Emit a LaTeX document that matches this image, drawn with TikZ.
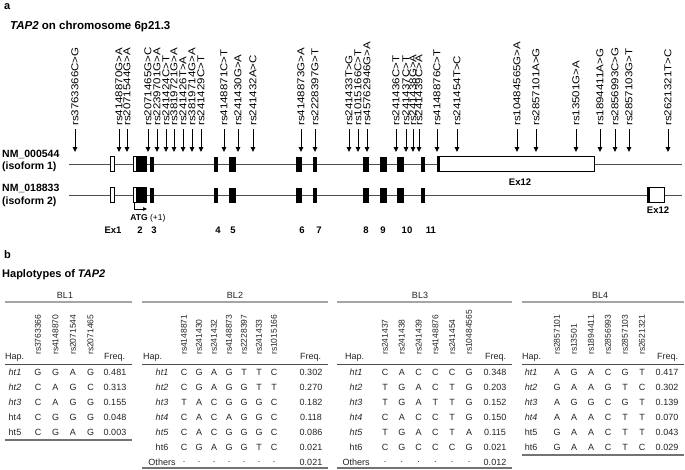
\documentclass[tikz,border=0pt]{standalone}
\usepackage{fontspec}
\setmainfont{Liberation Sans}
\usetikzlibrary{arrows.meta, positioning}
\definecolor{rulegray}{RGB}{165,165,165}
\definecolor{inkgray}{RGB}{35,35,35}

\begin{document}
\begin{tikzpicture}[
    x=1pt, y=-1pt,
    panel/.style={font=\fontsize{11}{12}\selectfont\bfseries, anchor=north west, inner sep=0pt},
    ttl/.style={font=\fontsize{11.5}{12}\selectfont\bfseries, anchor=west, inner sep=0pt},
    snp/.style={rotate=90, anchor=west, inner sep=0pt, font=\fontsize{10}{11}\selectfont},
    snparr/.style={-{Triangle[length=5pt, width=4.5pt]}, line width=0.9pt, shorten <=3pt},
    track/.style={draw=black!70, line width=0.8pt},
    utr/.style={draw, fill=white, line width=0.6pt},
    cds/.style={fill=black},
    iso/.style={font=\fontsize{10.5}{12.5}\selectfont\bfseries, anchor=west, align=left, inner sep=0pt},
    exlbl/.style={font=\fontsize{9.5}{10}\selectfont\bfseries, inner sep=0pt},
    bl/.style={font=\fontsize{9}{10}\selectfont, text=inkgray, inner sep=0pt},
    colhead/.style={rotate=90, anchor=west, inner sep=0pt, text=inkgray, font=\fontsize{8.5}{9}\selectfont},
    head/.style={anchor=west, inner sep=0pt, text=inkgray, font=\fontsize{9}{10}\selectfont},
    cell/.style={inner sep=0pt, text=inkgray, font=\fontsize{9}{10}\selectfont},
    toprule/.style={draw=rulegray, line width=1.8pt},
    midrule/.style={draw=black!70, line width=0.9pt},
    botrule/.style={draw=black!55, line width=1.2pt}
]
\useasboundingbox (0,0) rectangle (685,469);

% Panel a: gene structure
\node[panel] (pa) at (4,3) {a};
\node[ttl] (title) at (10,27) {\textit{TAP2} on chromosome 6p21.3};

% SNP arrows
\foreach \x/\lbl [count=\i] in {75/rs3763366C>G, 119/rs4148870G>A, 127/rs2071544G>A,
    148/rs2071465G>C, 157/rs2239701G>A, 166/rs241424C>T, 174/rs3819721G>A,
    183/rs241426T>A, 192/rs3819714G>A, 201/rs241429C>T, 224/rs4148871C>T,
    238/rs241430G>A, 253/rs241432A>C, 301/rs4148873G>A, 315/rs2228397G>T,
    349/rs241433T>G, 358/rs1015166C>T, 367/rs45762946G>A, 396/rs241436C>T,
    406/rs241437C>T, 413/rs241438G>A, 419/rs241439C>A, 437/rs4148876C>T,
    457/rs241454T>C, 517/rs10484565G>A, 536/rs2857101A>G, 576/rs13501G>A,
    600/rs1894411A>G, 615/rs2856993C>G, 629/rs2857103G>T, 668/rs2621321T>C} {
  \node[snp] (snp\i) at (\x,126) {\scalebox{1.15}[1]{\lbl}};
  \coordinate (tip\i) at (\x,152);
  \draw[snparr] (snp\i.west) -- (tip\i);
}

% isoform labels
\node[iso] (iso1) at (2,161) {NM\_000544\\(isoform 1)};
\node[iso] (iso2) at (2,195.5) {NM\_018833\\(isoform 2)};

% tracks and exons 1-11 (both isoforms)
\foreach \yy in {164,195} {
  \draw[track] (69,\yy) -- (682,\yy);
  \draw[utr] (110,\yy-7.5) rectangle (114,\yy+7.5);
  \draw[utr] (133,\yy-7.5) rectangle (146,\yy+7.5);
  \foreach \xa/\xb in {136/146, 150/154, 214/218, 229/236, 296/302, 313/317,
                       363/369, 380/387, 397/404, 421/425}
    \fill[cds] (\xa,\yy-7.5) rectangle (\xb,\yy+7.5);
}
% exon 12
\draw[utr] (437,156.5) rectangle (594,171.5);
\fill[cds] (437,156.5) rectangle (440,171.5);
\draw[utr] (647,187.5) rectangle (664,202.5);
\fill[cds] (647,187.5) rectangle (649.5,202.5);
\node[exlbl] (ex12a) at (520,182) {Ex12};
\node[exlbl] (ex12b) at (658,210) {Ex12};

% start codon
\coordinate (atg0) at (134,202.5);
\coordinate (atg1) at (147,209);
\draw[-{Triangle[length=4pt, width=3.5pt]}, line width=0.6pt] (atg0) |- (atg1);
\node[inner sep=0pt, font=\fontsize{8.5}{9}\selectfont] (atg) at (148,218) {\textbf{ATG} (+1)};

% exon numbers
\foreach \x/\n [count=\i] in {113/Ex1, 140/2, 154/3, 218/4, 233/5, 302/6, 319/7,
                              366/8, 383/9, 407/10, 431/11}
  \node[exlbl] (exn\i) at (\x,230) {\n};

% Panel b: haplotype tables
\node[panel] (pb) at (4,250) {b};
\node[ttl, font=\fontsize{11}{12}\selectfont\bfseries] (hapttl) at (2,275) {Haplotypes of \textit{TAP2}};

% BL1
\node[bl] (bl1) at (65,295) {BL1};
\draw[toprule] (5,302) -- (132,302);
\foreach \rs [count=\k] in {rs3763366, rs4148870, rs2071544, rs2071465}
  \node[colhead] (bl1h\k) at ({38+17.5*(\k-1)},355) {\rs};
\node[head] (bl1hap) at (5,357) {Hap.};
\node[head] (bl1frq) at (104,357) {Freq.};
\draw[midrule] (5,364) -- (132,364);
\foreach \hap/\cells/\fq [count=\r] in {{\itshape ht1}/{G,G,A,G}/0.481,
    {\itshape ht2}/{C,A,G,C}/0.313, {\itshape ht3}/{C,A,G,G}/0.155,
    ht4/{C,G,G,G}/0.048, ht5/{C,G,A,G}/0.003} {
  \node[cell] (bl1r\r) at (15,{372+15*(\r-1)}) {\hap};
  \foreach \c [count=\k] in \cells
    \node[cell] (bl1r\r c\k) at ({38+17.5*(\k-1)},{372+15*(\r-1)}) {\c};
  \node[cell] (bl1f\r) at (115,{372+15*(\r-1)}) {\fq};
}
\draw[botrule] (5,440) -- (132,440);

% BL2
\node[bl] (bl2) at (235,295) {BL2};
\draw[toprule] (142,302) -- (328,302);
\foreach \rs [count=\k] in {rs4148871, rs241430, rs241432, rs4148873, rs2228397, rs241433, rs1015166}
  \node[colhead] (bl2h\k) at ({184+15*(\k-1)},355) {\rs};
\node[head] (bl2hap) at (143,357) {Hap.};
\node[head] (bl2frq) at (300,357) {Freq.};
\draw[midrule] (142,364) -- (328,364);
\foreach \hap/\cells/\fq [count=\r] in {{\itshape ht1}/{C,G,A,G,T,T,C}/0.302,
    {\itshape ht2}/{C,G,A,G,G,T,T}/0.270, {\itshape ht3}/{T,A,C,G,G,G,C}/0.182,
    {\itshape ht4}/{C,A,C,A,G,G,C}/0.118, {\itshape ht5}/{C,A,C,G,G,G,C}/0.086,
    ht6/{C,G,A,G,G,T,C}/0.021} {
  \node[cell] (bl2r\r) at (162,{372+15*(\r-1)}) {\hap};
  \foreach \c [count=\k] in \cells
    \node[cell] (bl2r\r c\k) at ({184+15*(\k-1)},{372+15*(\r-1)}) {\c};
  \node[cell] (bl2f\r) at (311,{372+15*(\r-1)}) {\fq};
}
\node[cell] (bl2oth) at (162,462) {Others};
\foreach \k in {1,...,7}
  \node[cell] (bl2o\k) at ({184+15*(\k-1)},462) {.};
\node[cell] (bl2fo) at (311,462) {0.021};
\draw[botrule] (142,468) -- (328,468);

% BL3
\node[bl] (bl3) at (420,295) {BL3};
\draw[toprule] (337,302) -- (512,302);
\foreach \rs [count=\k] in {rs241437, rs241438, rs241439, rs4148876, rs241454, rs10484565}
  \node[colhead] (bl3h\k) at ({385+16.8*(\k-1)},355) {\rs};
\node[head] (bl3hap) at (345,357) {Hap.};
\node[head] (bl3frq) at (485,357) {Freq.};
\draw[midrule] (337,364) -- (512,364);
\foreach \hap/\cells/\fq [count=\r] in {{\itshape ht1}/{C,A,C,C,C,G}/0.348,
    {\itshape ht2}/{T,G,A,C,T,G}/0.203, {\itshape ht3}/{T,G,A,T,T,G}/0.152,
    {\itshape ht4}/{C,A,C,C,T,G}/0.150, {\itshape ht5}/{T,G,A,C,T,A}/0.115,
    ht6/{C,G,C,C,C,G}/0.021} {
  \node[cell] (bl3r\r) at (356,{372+15*(\r-1)}) {\hap};
  \foreach \c [count=\k] in \cells
    \node[cell] (bl3r\r c\k) at ({385+16.8*(\k-1)},{372+15*(\r-1)}) {\c};
  \node[cell] (bl3f\r) at (495,{372+15*(\r-1)}) {\fq};
}
\node[cell] (bl3oth) at (356,462) {Others};
\foreach \k in {1,...,6}
  \node[cell] (bl3o\k) at ({385+16.8*(\k-1)},462) {.};
\node[cell] (bl3fo) at (495,462) {0.012};
\draw[botrule] (337,468) -- (512,468);

% BL4
\node[bl] (bl4) at (600,295) {BL4};
\draw[toprule] (522,302) -- (684,302);
\foreach \rs [count=\k] in {rs2857101, rs13501, rs1894411, rs2856993, rs2857103, rs2621321}
  \node[colhead] (bl4h\k) at ({557+17*(\k-1)},355) {\rs};
\node[head] (bl4hap) at (522,357) {Hap.};
\node[head] (bl4frq) at (657,357) {Freq.};
\draw[midrule] (522,364) -- (684,364);
\foreach \hap/\cells/\fq [count=\r] in {{\itshape ht1}/{A,G,A,C,G,T}/0.417,
    {\itshape ht2}/{G,A,A,G,T,C}/0.302, {\itshape ht3}/{A,G,G,C,G,T}/0.139,
    {\itshape ht4}/{A,A,A,C,T,T}/0.070, ht5/{G,A,A,C,T,T}/0.043,
    ht6/{G,A,A,C,T,C}/0.029} {
  \node[cell] (bl4r\r) at (531,{372+15*(\r-1)}) {\hap};
  \foreach \c [count=\k] in \cells
    \node[cell] (bl4r\r c\k) at ({557+17*(\k-1)},{372+15*(\r-1)}) {\c};
  \node[cell] (bl4f\r) at (667,{372+15*(\r-1)}) {\fq};
}
\draw[botrule] (522,455) -- (684,455);
\end{tikzpicture}
\end{document}
